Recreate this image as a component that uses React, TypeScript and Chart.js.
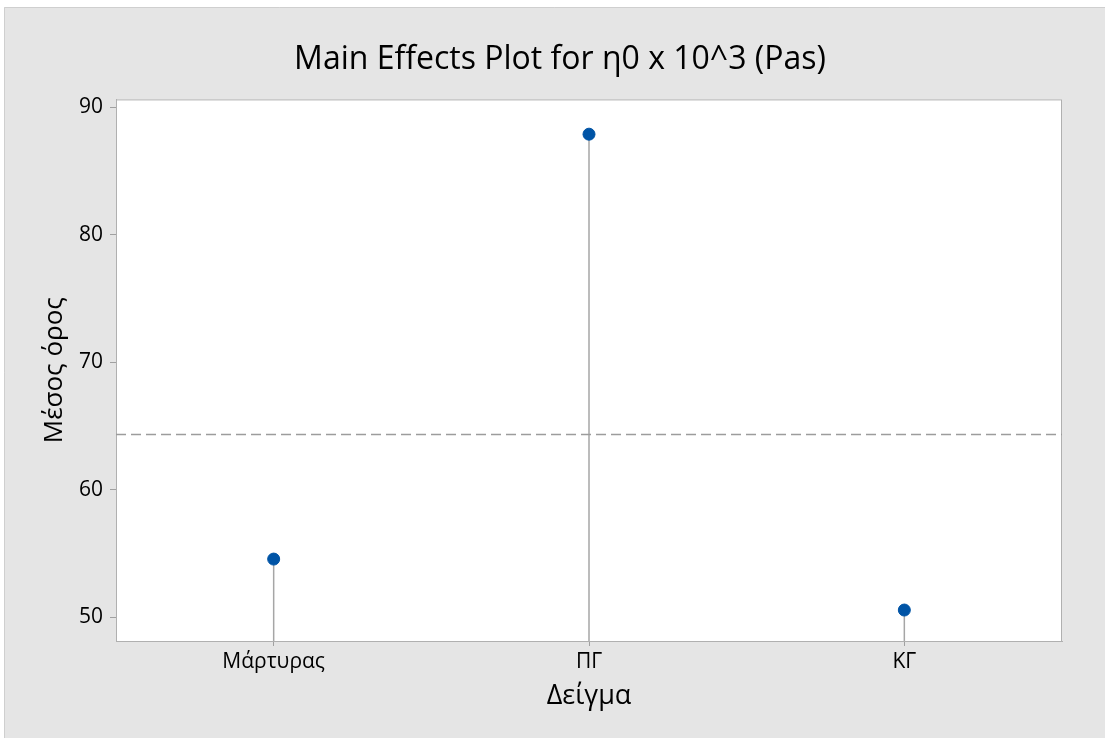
import React, { useEffect, useRef } from "react";
import { Chart, registerables } from "chart.js";

Chart.register(...registerables);

const categories = ["Μάρτυρας", "ΠΓ", "ΚΓ"];
const means = [54.55, 87.9, 50.55];
const yTickValues = [50, 60, 70, 80, 90];
const yMin = 48.12;
const yMax = 90.63;
const titleText = "Main Effects Plot for η0 x 10^3 (Pas)";
const xTitle = "Δείγμα";
const yTitle = "Μέσος όρος";

const FONT = "'Open Sans', 'Noto Sans', sans-serif";

export default function App() {
  const ref = useRef<HTMLCanvasElement | null>(null);

  useEffect(() => {
    document.body.style.margin = "0";
    const canvas = ref.current;
    if (!canvas) return;
    const grand = means.reduce((a, b) => a + b, 0) / means.length;

    const bgPlugin = {
      id: "bgPlugin",
      beforeDraw(chart: any) {
        const { ctx, width, height, chartArea } = chart;
        ctx.save();
        ctx.fillStyle = "#ffffff";
        ctx.fillRect(0, 0, width, height);
        ctx.fillStyle = "#e5e5e5";
        ctx.fillRect(4, 7, width - 4, height - 7);
        ctx.strokeStyle = "#cfcfcf";
        ctx.lineWidth = 1;
        ctx.beginPath();
        ctx.moveTo(4.5, height);
        ctx.lineTo(4.5, 7.5);
        ctx.lineTo(width, 7.5);
        ctx.stroke();
        ctx.fillStyle = "#ffffff";
        ctx.fillRect(chartArea.left, chartArea.top, chartArea.right - chartArea.left, chartArea.bottom - chartArea.top);
        ctx.restore();
      },
      beforeDatasetsDraw(chart: any) {
        const { ctx, chartArea } = chart;
        ctx.save();
        ctx.strokeStyle = "#b0b0b0";
        ctx.lineWidth = 1;
        ctx.strokeRect(chartArea.left + 0.5, chartArea.top + 0.5, chartArea.right - chartArea.left - 1, chartArea.bottom - chartArea.top);
        ctx.restore();
      },
    };

    const stemDatasets = means.map((v, i) => ({
      type: "line" as const,
      data: [
        { x: i + 1, y: v },
        { x: i + 1, y: yMin },
      ],
      borderColor: "#a6a6a6",
      borderWidth: 1.5,
      pointRadius: 0,
      order: 3,
    }));

    const chart = new Chart(canvas, {
      type: "scatter",
      data: {
        datasets: [
          ...stemDatasets,
          {
            type: "line" as const,
            data: [
              { x: 0.5, y: grand },
              { x: 3.5, y: grand },
            ],
            borderColor: "#9c9c9c",
            borderWidth: 1.6,
            borderDash: [10, 5],
            pointRadius: 0,
            order: 2,
          },
          {
            type: "scatter" as const,
            data: means.map((v, i) => ({ x: i + 1, y: v })),
            backgroundColor: "#0054a6",
            borderColor: "#0054a6",
            pointRadius: 6,
            pointHoverRadius: 6,
            order: 1,
          },
        ] as any,
      },
      options: {
        animation: false,
        responsive: false,
        maintainAspectRatio: false,
        layout: { padding: { left: 15, right: 0, top: 0, bottom: 0 } },
        plugins: {
          legend: { display: false },
          tooltip: { enabled: false },
          title: {
            display: true,
            text: titleText,
            color: "#000000",
            font: { family: FONT, size: 32, weight: "normal" as any, lineHeight: 1.2 },
            padding: { top: 41, bottom: 20 },
          },
        },
        scales: {
          x: {
            type: "linear",
            min: 0.5,
            max: 3.5,
            afterBuildTicks(scale: any) {
              scale.ticks = categories.map((_, i) => ({ value: i + 1 }));
            },
            afterFit(scale: any) {
              scale.height = 97;
            },
            ticks: {
              callback: (v: any) => categories[Math.round(Number(v)) - 1] ?? "",
              color: "#000000",
              font: { family: FONT, size: 21, weight: "normal" as any },
              padding: 3,
              maxRotation: 0,
            },
            grid: { drawOnChartArea: false, drawTicks: true, tickLength: 5, color: "#a0a0a0" },
            border: { display: true, color: "#b0b0b0" },
            title: {
              display: true,
              text: xTitle,
              color: "#000000",
              font: { family: FONT, size: 27, weight: "normal" as any, lineHeight: 1.2 },
              padding: { top: 0, bottom: 25 },
            },
          },
          y: {
            type: "linear",
            min: yMin,
            max: yMax,
            afterBuildTicks(scale: any) {
              scale.ticks = yTickValues.map((v) => ({ value: v }));
            },
            afterFit(scale: any) {
              scale.width = 101;
            },
            ticks: {
              color: "#000000",
              font: { family: FONT, size: 21, weight: "normal" as any },
              padding: 7,
            },
            grid: { drawOnChartArea: false, drawTicks: true, tickLength: 6, color: "#a0a0a0" },
            border: { display: true, color: "#b0b0b0" },
            title: {
              display: true,
              text: yTitle,
              color: "#000000",
              font: { family: FONT, size: 26, weight: "normal" as any, lineHeight: 1.2 },
              padding: { top: 24, bottom: 0 },
            },
          },
          y2: {
            type: "linear",
            position: "right",
            display: true,
            afterFit(scale: any) {
              scale.width = 43;
            },
            ticks: { display: false },
            grid: { display: false, drawTicks: false },
            border: { display: false },
          },
        },
      },
      plugins: [bgPlugin],
    } as any);

    return () => chart.destroy();
  }, []);

  return (
    <div style={{ position: "fixed", left: 0, top: 0, width: 1105, height: 738 }}>
      <canvas ref={ref} width={1105} height={738} style={{ width: 1105, height: 738, display: "block" }} />
    </div>
  );
}
